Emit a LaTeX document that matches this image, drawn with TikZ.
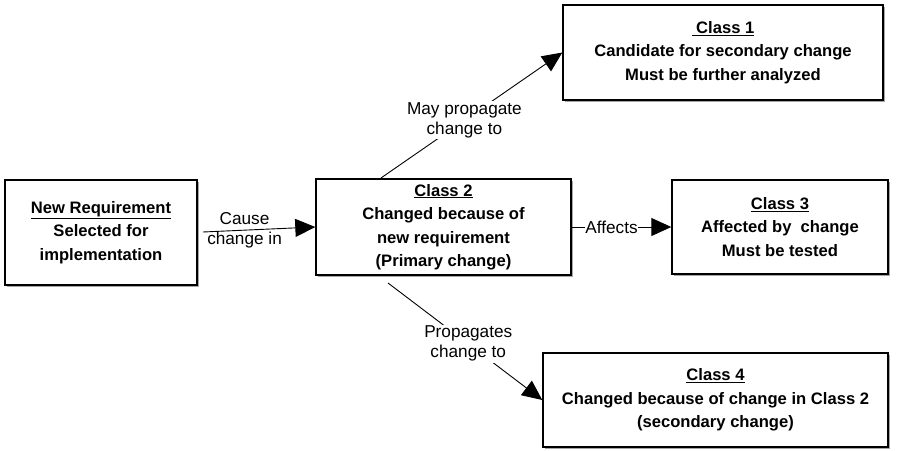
\documentclass[tikz,border=0pt]{standalone}
\usepackage{fontspec}
\setmainfont{Liberation Sans}
\usetikzlibrary{arrows.meta,shadows}

\tikzset{
  classbox/.style={draw=black, line width=1.4pt, fill=white, rectangle,
    inner sep=0pt, align=center,
    font=\bfseries\fontsize{16.6}{23.5}\selectfont,
    drop shadow={shadow xshift=2pt, shadow yshift=-2pt, opacity=1, fill=gray!70}},
  link/.style={draw=black, line width=0.9pt, -{Triangle[length=20pt,width=18pt]}},
  linklabel/.style={align=center, font=\fontsize{17.2}{20}\selectfont, inner sep=1.5pt},
  cutlabel/.style={linklabel, fill=white}
}

\begin{document}
\begin{tikzpicture}[x=1pt,y=-1pt]
\path[use as bounding box] (0,0) rectangle (897,450);

% boxes
\node[classbox, minimum width=192pt, minimum height=105pt] (nr) at (101,232.5)
  {\underline{New Requirement}\\Selected for\\implementation};
\node[classbox, minimum width=255pt, minimum height=96pt] (c2) at (443.5,227)
  {\underline{Class 2}\\Changed because of\\new requirement\\(Primary change)};
\node[classbox, minimum width=320pt, minimum height=95pt] (c1) at (723,52.5)
  {\underline{\ Class 1}\\Candidate for secondary change\\Must be further analyzed};
\node[classbox, minimum width=216pt, minimum height=94pt] (c3) at (780,227)
  {\underline{Class 3}\\Affected by\ \ change\\Must be tested};
\node[classbox, minimum width=345pt, minimum height=94pt] (c4) at (715.5,400)
  {\underline{Class 4}\\Changed because of change in Class 2\\(secondary change)};

% free ends of the connectors
\coordinate (causeStart) at (203,232);
\coordinate (mayStart) at (381,178);
\coordinate (propStart) at (388,283);

% connectors
\draw[link] (causeStart) -- node[linklabel, pos=0.37, yshift=-0.5pt] {Cause\\change in} (c2.west);
\draw[link] (mayStart) -- node[cutlabel, pos=0.46] {May propagate\\change to} (c1.west);
\draw[link] (c2.east) -- node[cutlabel, pos=0.4, inner xsep=0.5pt] {Affects} (c3.west);
\draw[link] (propStart) -- node[cutlabel, pos=0.52] {Propagates\\change to} (c4.west);
\end{tikzpicture}
\end{document}
